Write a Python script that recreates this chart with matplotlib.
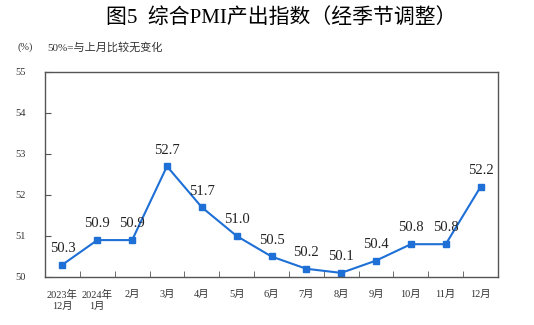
import matplotlib
matplotlib.use('Agg')
import matplotlib.pyplot as plt
import numpy as np

months = ['2023年\n12月', '2024年\n1月', '2月', '3月', '4月', '5月', '6月',
          '7月', '8月', '9月', '10月', '11月', '12月']
values = [50.3, 50.9, 50.9, 52.7, 51.7, 51.0, 50.5, 50.2, 50.1, 50.4, 50.8, 50.8, 52.2]

FONT = ['Liberation Serif', 'Noto Sans CJK SC']
plt.rcParams['font.family'] = FONT

fig = plt.figure(figsize=(5.34, 3.25), dpi=100)
ax = fig.add_axes([0.0843, 0.1477, 0.8483, 0.6308])

x = np.arange(len(values))
ax.plot(x, values, color='#1e6fd6', lw=1.5, marker='s', ms=4.5)
for xi, v in zip(x, values):
    ax.annotate(f'{v:.1f}', (xi, v), xytext=(0, 7), textcoords='offset points',
                ha='center', va='bottom', fontsize=10.5, color='#222222')

ax.set_xlim(-0.5, len(values) - 0.5)
ax.set_ylim(50, 55)
ax.set_yticks([50, 51, 52, 53, 54, 55])
ax.set_xticks(x)
ax.set_xticklabels(months, fontsize=7.5, color='#333333', linespacing=1.3)
ax.set_xticks(np.arange(0.5, len(values) - 1, 1), minor=True)
ax.tick_params(axis='x', which='major', length=0, pad=9)
ax.tick_params(axis='x', which='minor', direction='in', length=4, color='#555555')
ax.tick_params(axis='y', direction='in', length=4, color='#555555',
               labelsize=7.5, labelcolor='#333333', pad=14)
for s in ax.spines.values():
    s.set_color('#555555')
    s.set_linewidth(1.0)

fig.text(0.526, 0.945, '图5  综合PMI产出指数（经季节调整）', ha='center', va='center',
         fontsize=15, fontweight='medium', family=FONT)
fig.text(0.032, 0.855, '(%)', fontsize=7.5, va='center', color='#333333')
fig.text(0.088, 0.855, '50%=与上月比较无变化', fontsize=8, va='center', color='#333333')

fig.savefig('out.png', dpi=100)
